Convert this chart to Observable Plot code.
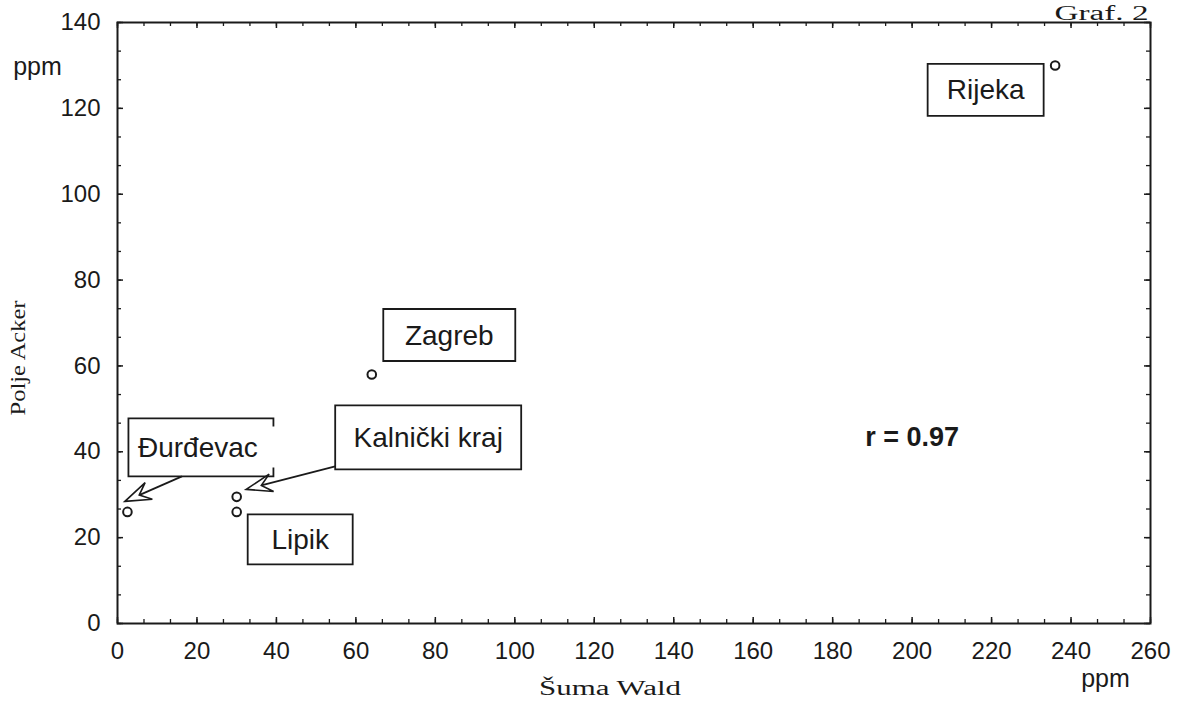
<!DOCTYPE html>
<html><head><meta charset="utf-8">
<script src="https://cdn.jsdelivr.net/npm/d3@7"></script>
<script src="https://cdn.jsdelivr.net/npm/@observablehq/plot@0.6"></script>
<style>body{margin:0;background:#fff;overflow:hidden}</style>
</head><body><div id="chart"></div>
<script>
// ---- data ----
const cities = ["Rijeka", "Zagreb", "Kalnički kraj", "Lipik", "Đurđevac"];
const sumaWald = [236, 64, 30, 30, 2.5];      // x, ppm
const poljeAcker = [130, 58, 29.5, 26, 26];   // y, ppm
const xTicks = [0, 20, 40, 60, 80, 100, 120, 140, 160, 180, 200, 220, 240, 260];
const yTicks = [0, 20, 40, 60, 80, 100, 120, 140];
const xTitle = "Šuma Wald";
const yTitle = "Polje Acker";
const unit = "ppm";
const figLabel = "Graf. 2";
const rLabel = "r = 0.97";

// ---- layout (pixels) ----
const W = 1183, H = 704, mL = 117, mR = 33, mT = 22, mB = 81;
const plotW = W - mL - mR, plotH = H - mT - mB;
const labelLayout = {
  "Rijeka":        {dx: -69, dy: 25,  w: 116, h: 52},
  "Zagreb":        {dx: 78,  dy: -39, w: 132, h: 52},
  "Kalnički kraj": {dx: 192, dy: -59, w: 186, h: 64, arrow: {sx: 99, sy: -30, tx: 10, ty: -7}},
  "Lipik":         {dx: 64,  dy: 28,  w: 105, h: 50},
  "Đurđevac":      {dx: 74,  dy: -64, w: 145, h: 58, open: true, arrow: {sx: 55, sy: -35, tx: -2, ty: -10}}
};

const data = cities.map((c, i) => ({city: c, x: sumaWald[i], y: poljeAcker[i]}));
const xMinor = d3.range(0, 260.001, 20 / 3);
const yMinor = d3.range(0, 140.001, 20 / 3);
const ink = "#1a1a1a";
const sans = "'Liberation Sans', Arial, sans-serif";
const serif = "'Liberation Serif', 'Times New Roman', serif";

const plot = Plot.plot({
  width: W, height: H,
  marginLeft: mL, marginRight: mR, marginTop: mT, marginBottom: mB,
  style: {fontFamily: sans, fontSize: "24px", background: "#fff", color: ink},
  x: {domain: [0, 260], label: null, axis: null},
  y: {domain: [0, 140], label: null, axis: null},
  marks: [
    Plot.axisX(xTicks, {anchor: "bottom", tickSize: 0, tickPadding: 18, fontSize: 24, fill: ink, label: null}),
    Plot.axisY(yTicks, {anchor: "left", tickSize: 0, tickPadding: 17, fontSize: 24, fill: ink, label: null}),
    Plot.ruleX(xMinor, {x: d => d, insetTop: plotH - 4, stroke: ink, strokeWidth: 1.3}),
    Plot.ruleX(xMinor, {x: d => d, insetBottom: plotH - 4, stroke: ink, strokeWidth: 1.3}),
    Plot.ruleX(xTicks, {x: d => d, insetTop: plotH - 6, stroke: ink, strokeWidth: 1.5}),
    Plot.ruleX(xTicks, {x: d => d, insetBottom: plotH - 6, stroke: ink, strokeWidth: 1.5}),
    Plot.ruleY(yMinor, {y: d => d, insetRight: plotW - 4, stroke: ink, strokeWidth: 1.3}),
    Plot.ruleY(yMinor, {y: d => d, insetLeft: plotW - 4, stroke: ink, strokeWidth: 1.3}),
    Plot.ruleY(yTicks, {y: d => d, insetRight: plotW - 6, stroke: ink, strokeWidth: 1.5}),
    Plot.ruleY(yTicks, {y: d => d, insetLeft: plotW - 6, stroke: ink, strokeWidth: 1.5}),
    Plot.frame({stroke: ink, strokeWidth: 2}),
    Plot.dot(data, {x: "x", y: "y", r: 4.3, stroke: ink, strokeWidth: 2, fill: "white"}),
    Plot.text([rLabel], {x: 200, y: 43.3, fontWeight: "bold", fontSize: 27, fill: ink}),
    Plot.text([unit], {frameAnchor: "top-left", textAnchor: "middle", dx: -80, dy: 35, fontSize: 25, fill: ink}),
    Plot.text([unit], {frameAnchor: "bottom-right", textAnchor: "middle", dx: -45, dy: 63, fontSize: 25, fill: ink}),
    Plot.text([xTitle], {frameAnchor: "bottom", textAnchor: "middle", dx: -24, dy: 71, fontSize: 20, fontFamily: serif, fill: ink}),
    Plot.text([yTitle], {frameAnchor: "left", textAnchor: "middle", dx: -99, dy: 35, rotate: -90, fontSize: 20, fontFamily: serif, fill: ink}),
    Plot.text([figLabel], {frameAnchor: "top-right", dx: -2, dy: -3, textAnchor: "end", lineAnchor: "bottom", fontSize: 20, fontFamily: serif, fill: ink})
  ]
});

document.getElementById("chart").appendChild(plot);

// stretch serif titles like the scanned original
const svgSel = d3.select(plot);
svgSel.selectAll("text").each(function() {
  const t = this.textContent;
  if (t === xTitle) { this.setAttribute("textLength", 142); this.setAttribute("lengthAdjust", "spacingAndGlyphs"); }
  if (t === yTitle) { this.setAttribute("textLength", 115); this.setAttribute("lengthAdjust", "spacingAndGlyphs"); }
  if (t === figLabel) { this.setAttribute("textLength", 94); this.setAttribute("lengthAdjust", "spacingAndGlyphs"); }
});

// label boxes and arrows, placed via the plot's own scales
const sx = plot.scale("x"), sy = plot.scale("y");
const ann = svgSel.append("g");
data.forEach(d => {
  const L = labelLayout[d.city];
  const px = sx.apply(d.x), py = sy.apply(d.y);
  const cx = px + L.dx, cy = py + L.dy;
  const x0 = cx - L.w / 2, x1 = cx + L.w / 2, y0 = cy - L.h / 2, y1 = cy + L.h / 2;
  let path;
  if (L.open) {
    path = `M${x1},${y0 + 8}V${y0}H${x0}V${y1}H${x1}V${y1 - 9}`;
  } else {
    path = `M${x0},${y0}H${x1}V${y1}H${x0}Z`;
  }
  ann.append("path").attr("d", path).attr("fill", "none").attr("stroke", ink).attr("stroke-width", 1.8);
  ann.append("text").attr("x", cx + (L.open ? -3 : 0)).attr("y", cy)
    .attr("text-anchor", "middle").attr("dominant-baseline", "central")
    .attr("font-family", sans).attr("font-size", 28).attr("fill", ink).text(d.city);
  if (L.arrow) {
    const A = L.arrow;
    const sxp = px + A.sx, syp = py + A.sy, tx = px + A.tx, ty = py + A.ty;
    const len = Math.hypot(sxp - tx, syp - ty);
    const ux = (sxp - tx) / len, uy = (syp - ty) / len;
    const nx = -uy, ny = ux;
    const hl = 26, hw = 9;
    const w1 = [tx + ux * hl + nx * hw, ty + uy * hl + ny * hw];
    const w2 = [tx + ux * hl - nx * hw, ty + uy * hl - ny * hw];
    const notch = [tx + ux * hl * 0.6, ty + uy * hl * 0.6];
    ann.append("path").attr("d", `M${sxp},${syp}L${notch[0]},${notch[1]}`)
      .attr("stroke", ink).attr("stroke-width", 1.8).attr("fill", "none");
    ann.append("path").attr("d", `M${tx},${ty}L${w1[0]},${w1[1]}L${notch[0]},${notch[1]}L${w2[0]},${w2[1]}Z`)
      .attr("stroke", ink).attr("stroke-width", 1.6).attr("fill", "white").attr("stroke-linejoin", "miter");
  }
});
</script>
</body></html>
